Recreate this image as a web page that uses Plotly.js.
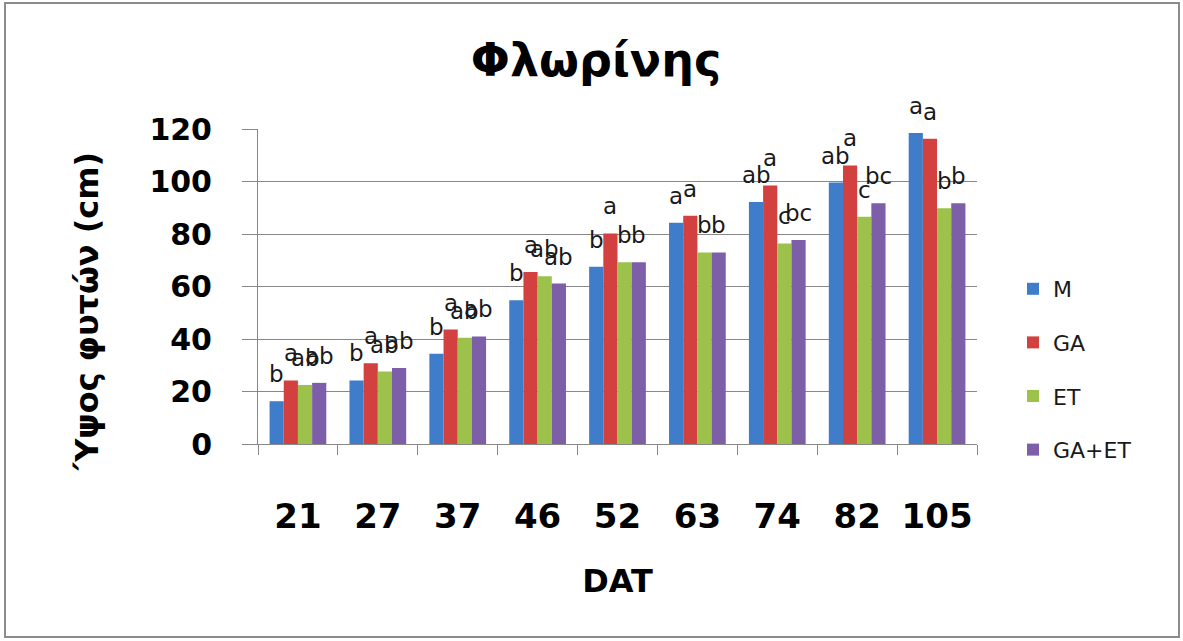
<!DOCTYPE html>
<html>
<head>
<meta charset="utf-8">
<script src="https://cdn.plot.ly/plotly-3.0.1.min.js"></script>
<style>
html,body{margin:0;padding:0;background:#fff;}
#chart{width:1183px;height:641px;}
#frame{position:absolute;left:4px;top:2px;width:1172px;height:632px;border:2px solid #8c8c8c;pointer-events:none;}
</style>
</head>
<body>
<div id="chart"></div>
<div id="frame"></div>
<script>
const categories = ['21','27','37','46','52','63','74','82','105'];
const seriesNames = ['M','GA','ET','GA+ET'];
const valuesM    = [16.3, 24.2, 34.4, 54.8, 67.5, 84.3, 92.2, 99.6, 118.5];
const valuesGA   = [24.2, 30.8, 43.6, 65.5, 80.2, 87.0, 98.5, 106.1, 116.3];
const valuesET   = [22.5, 27.6, 40.5, 63.9, 69.2, 73.0, 76.4, 86.6, 89.8];
const valuesGAET = [23.3, 29.0, 41.0, 61.1, 69.2, 73.0, 77.7, 91.7, 91.7];
const lettersM    = ['b','b','b','b','b','a','ab','ab','a'];
const lettersGA   = ['a','a','a','a','a','a','a','a','a'];
const lettersET   = ['ab','ab','ab','ab','b','b','c','c','b'];
const lettersGAET = ['ab','ab','ab','ab','b','b','bc','bc','b'];
const colors = ['#3F7DCB','#D2413F','#9CC24B','#7D5EA8'];

const allValues = [valuesM, valuesGA, valuesET, valuesGAET];
const allLetters = [lettersM, lettersGA, lettersET, lettersGAET];

const FONT = 'DejaVu Sans, sans-serif';
const bargap = 0.29;
const barW = (1 - bargap) / 4;

const traces = allValues.map((vals, k) => ({
  type: 'bar',
  name: seriesNames[k],
  x: categories,
  y: vals,
  marker: {color: colors[k]},
  legendgroup: 'g' + k,
  hoverinfo: 'skip'
}));

const annotations = [];
allValues.forEach((vals, k) => {
  vals.forEach((v, i) => {
    annotations.push({
      x: i + (k - 1.5) * barW,
      y: v,
      xref: 'x', yref: 'y',
      text: allLetters[k][i],
      showarrow: false,
      yanchor: 'bottom',
      yshift: 12,
      font: {family: FONT, size: 23, color: '#1a1a1a'}
    });
  });
});

annotations.push({
  xref: 'paper', yref: 'paper',
  x: (87 - 258) / 719, y: (444 - 312) / 315,
  text: '<b>Ύψος φυτών (cm)</b>',
  textangle: -90,
  showarrow: false,
  xanchor: 'center', yanchor: 'middle',
  font: {family: FONT, size: 32, color: '#000'}
});

const layout = {
  width: 1183, height: 641,
  margin: {l: 258, r: 206, t: 129, b: 197},
  paper_bgcolor: '#fff', plot_bgcolor: '#fff',
  barmode: 'group',
  bargap: bargap,
  bargroupgap: 0,
  title: {
    text: '<b>Φλωρίνης</b>',
    x: 596 / 1183, xanchor: 'center',
    y: 1 - 60 / 641, yanchor: 'middle',
    font: {family: FONT, size: 46, color: '#000'}
  },
  xaxis: {
    type: 'category',
    range: [-0.5, 8.5],
    showgrid: false,
    showline: true, linecolor: '#888', linewidth: 1,
    ticks: 'outside', tickson: 'boundaries', ticklen: 10, tickcolor: '#888',
    tickangle: 0,
    ticklabelstandoff: 42,
    tickfont: {family: FONT, size: 34, color: '#000', weight: 'bold'},
    title: {text: '<b>DAT</b>', standoff: 34, font: {family: FONT, size: 32, color: '#000'}},
    fixedrange: true
  },
  yaxis: {
    range: [0, 120],
    tickvals: [0,20,40,60,80,100,120],
    showgrid: true, gridcolor: '#888', gridwidth: 1,
    showline: true, linecolor: '#888', linewidth: 1,
    ticks: 'outside', ticklen: 15, tickcolor: '#888',
    ticklabelstandoff: 24,
    tickfont: {family: FONT, size: 30, color: '#000', weight: 'bold'},
    zeroline: false,
    fixedrange: true
  },
  legend: {
    x: (1013 - 258) / 719, xanchor: 'left',
    y: (444 - 268) / 315, yanchor: 'top',
    font: {family: FONT, size: 22, color: '#1a1a1a'},
    traceorder: 'grouped',
    tracegroupgap: 22,
    itemwidth: 30,
    bgcolor: 'rgba(0,0,0,0)'
  },
  annotations: annotations,
  showlegend: true
};

Plotly.newPlot('chart', traces, layout, {displayModeBar: false, staticPlot: true});
</script>
</body>
</html>
